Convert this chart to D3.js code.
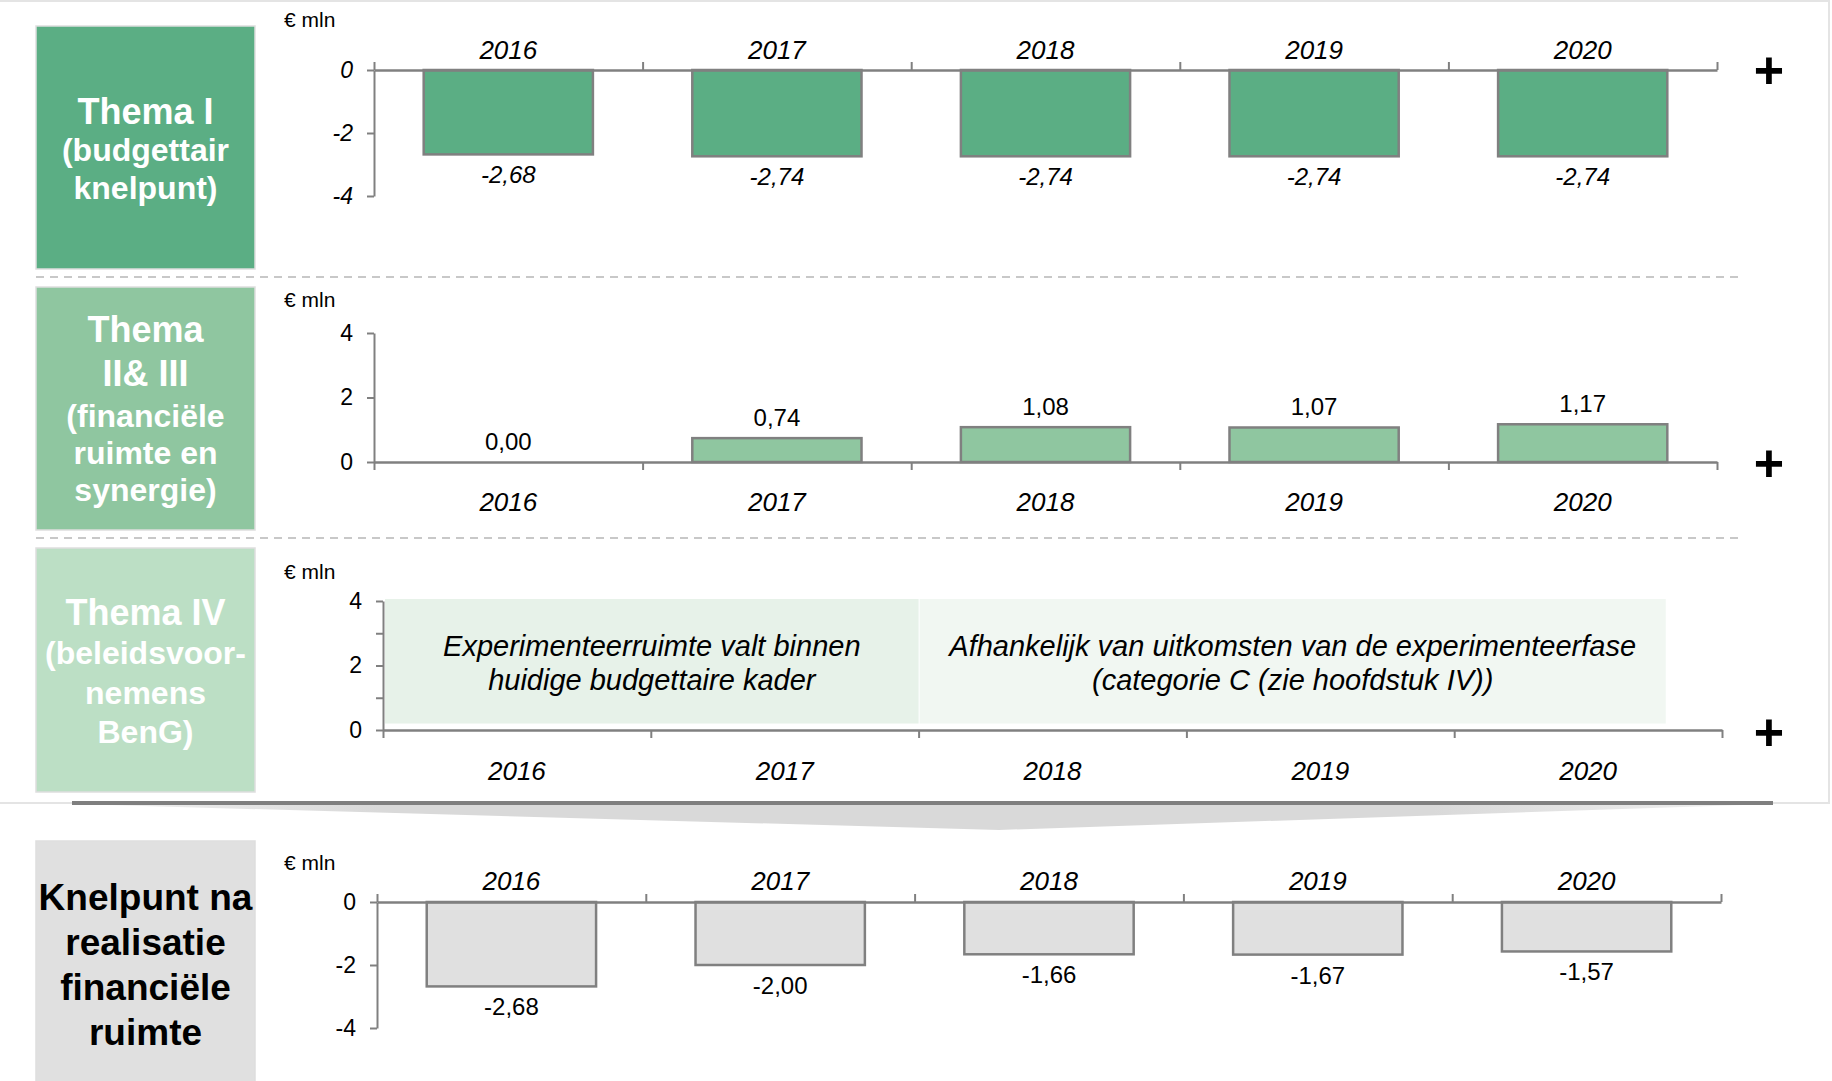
<!DOCTYPE html>
<html>
<head>
<meta charset="utf-8">
<script src="https://cdn.jsdelivr.net/npm/d3@7"></script>
<style>
  html, body { margin: 0; padding: 0; background: #ffffff; }
  svg { display: block; font-family: "Liberation Sans", Arial, sans-serif; }
</style>
</head>
<body>
<svg id="chart" width="1832" height="1081"></svg>
<script>
// ---------------- DATA ----------------
const years = ["2016", "2017", "2018", "2019", "2020"];
const thema1Values = [-2.68, -2.74, -2.74, -2.74, -2.74];
const thema23Values = [0.00, 0.74, 1.08, 1.07, 1.17];
const knelpuntValues = [-2.68, -2.00, -1.66, -1.67, -1.57];

const negTicks = [-4, -2, 0];
const posTicks = [0, 2, 4];
const thema4Ticks = [0, 1, 2, 3, 4];
const thema4LabelTicks = [0, 2, 4];
const unitLabel = "€ mln";

const titleThema1 = ["Thema I", "(budgettair", "knelpunt)"];
const titleThema23 = ["Thema", "II& III", "(financiële", "ruimte en", "synergie)"];
const titleThema4 = ["Thema IV", "(beleidsvoor-", "nemens", "BenG)"];
const titleKnelpunt = ["Knelpunt na", "realisatie", "financiële", "ruimte"];

const noteExperiment = ["Experimenteerruimte valt binnen", "huidige budgettaire kader"];
const noteAfhankelijk = ["Afhankelijk van uitkomsten van de experimenteerfase", "(categorie C (zie hoofdstuk IV))"];
const plusSign = "+";

// ---------------- DRAWING ----------------
const svg = d3.select("#chart");
const nl = d3.formatLocale({ decimal: ",", thousands: ".", grouping: [3], currency: ["€", ""], minus: "-" });
const fmt = nl.format(".2f");
const fmtTick = nl.format("d");
const AXIS = "#808080";

// outer frame around the top three themes
svg.append("rect").attr("x", -2).attr("y", 1).attr("width", 1831).attr("height", 802)
  .attr("fill", "none").attr("stroke", "#e4e4e4").attr("stroke-width", 2);

// dashed separators
[277, 538].forEach(y => {
  svg.append("line").attr("x1", 36).attr("x2", 1740).attr("y1", y).attr("y2", y)
    .attr("stroke", "#c8c8c8").attr("stroke-width", 2).attr("stroke-dasharray", "8,6");
});

// arrow (summing) shape
const grad = svg.append("defs").append("linearGradient").attr("id", "arrowGrad")
  .attr("x1", "0%").attr("x2", "100%").attr("y1", "0%").attr("y2", "0%");
grad.append("stop").attr("offset", "0%").attr("stop-color", "#f2f2f2");
grad.append("stop").attr("offset", "18%").attr("stop-color", "#d9d9d9");
grad.append("stop").attr("offset", "80%").attr("stop-color", "#d9d9d9");
grad.append("stop").attr("offset", "100%").attr("stop-color", "#f2f2f2");
svg.append("path").attr("d", d3.line()([[72, 804], [1773, 804], [999, 830]]) + "Z")
  .attr("fill", "url(#arrowGrad)");
svg.append("line").attr("x1", 72).attr("x2", 1773).attr("y1", 803).attr("y2", 803)
  .attr("stroke", "#7f7f7f").attr("stroke-width", 4);

// title boxes
function titleBox(y0, y1, fill, color, lines, baselines, sizes) {
  svg.append("rect").attr("x", 36).attr("y", y0).attr("width", 219).attr("height", y1 - y0)
    .attr("fill", fill).attr("stroke", "#dedede").attr("stroke-width", 1.5);
  svg.append("g").selectAll("text").data(lines).join("text")
    .attr("x", 145.5).attr("y", (d, i) => baselines[i])
    .attr("text-anchor", "middle").attr("font-weight", "bold")
    .attr("font-size", (d, i) => sizes[i]).attr("fill", color).text(d => d);
}
titleBox(26, 269, "#5bae84", "#ffffff", titleThema1, [124, 161, 199], [36, 32, 32]);
titleBox(287, 530, "#8fc6a0", "#ffffff", titleThema23, [342, 386, 427, 464, 501], [36, 36, 32, 32, 32]);
titleBox(548, 792, "#bcdfc5", "#ffffff", titleThema4, [625, 664, 704, 743], [36, 32, 32, 32]);
titleBox(841, 1083, "#e0e0e0", "#000000", titleKnelpunt, [910, 955, 1000, 1045], [37, 37, 37, 37]);

// generic bar panel
function panel(cfg) {
  const g = svg.append("g");
  const x = d3.scaleBand().domain(years).range([cfg.x0, cfg.x1]).paddingInner(0.37).paddingOuter(0.185);
  const y = d3.scaleLinear().domain(cfg.domain).range(cfg.range);
  const xb = d3.scaleLinear().domain([0, years.length]).range([cfg.x0, cfg.x1]);

  // unit label
  g.append("text").attr("x", 284).attr("y", cfg.unitY).attr("font-size", 21).attr("fill", "#000").text(unitLabel);

  // bars
  if (cfg.values) {
    g.append("g").selectAll("rect").data(cfg.values).join("rect")
      .attr("x", (d, i) => x(years[i]))
      .attr("y", d => Math.min(y(d), y(0)))
      .attr("width", x.bandwidth())
      .attr("height", d => Math.abs(y(d) - y(0)))
      .attr("fill", cfg.fill).attr("stroke", AXIS).attr("stroke-width", 2.5);
    g.append("g").selectAll("text").data(cfg.values).join("text")
      .attr("x", (d, i) => x(years[i]) + x.bandwidth() / 2)
      .attr("y", d => d < 0 ? y(d) + 29 : y(d) - 12)
      .attr("text-anchor", "middle").attr("font-size", 24)
      .attr("font-style", cfg.italicValues ? "italic" : "normal")
      .attr("fill", "#000").text(d => fmt(d));
  }

  // y axis
  const yAxis = d3.axisLeft(y).tickValues(cfg.ticks).tickSize(7).tickSizeOuter(0).tickPadding(14)
    .tickFormat(d => cfg.labelTicks.includes(d) ? fmtTick(d) : "");
  const ya = g.append("g").attr("transform", `translate(${cfg.x0},0)`).call(yAxis);
  ya.select(".domain").attr("stroke", AXIS).attr("stroke-width", 2);
  ya.selectAll(".tick line").attr("stroke", AXIS).attr("stroke-width", 2);
  ya.selectAll(".tick text").attr("font-size", 23).attr("fill", "#000")
    .attr("font-family", "Liberation Sans, Arial, sans-serif")
    .attr("font-style", cfg.italicTicks ? "italic" : "normal");

  // x axis with boundary ticks
  const xAxis = (cfg.ticksUp ? d3.axisTop(xb) : d3.axisBottom(xb))
    .tickValues(d3.range(0, years.length + 1)).tickSize(8).tickSizeOuter(0).tickFormat("");
  const xa = g.append("g").attr("transform", `translate(0,${y(0)})`).call(xAxis);
  xa.select(".domain").attr("stroke", AXIS).attr("stroke-width", 2.5);
  xa.selectAll(".tick line").attr("stroke", AXIS).attr("stroke-width", 2);

  // year labels
  g.append("g").selectAll("text").data(years).join("text")
    .attr("x", d => x(d) + x.bandwidth() / 2).attr("y", cfg.yearY)
    .attr("text-anchor", "middle").attr("font-size", 26).attr("font-style", "italic")
    .attr("fill", "#000").text(d => d);

  // plus sign
  if (cfg.plusY) {
    g.append("text").attr("x", 1769).attr("y", cfg.plusY + 17).attr("text-anchor", "middle")
      .attr("font-size", 52).attr("font-weight", "bold").attr("fill", "#000").text(plusSign);
  }
  return { x, y, g };
}

panel({ x0: 374, x1: 1717, domain: [-4, 0], range: [196, 70], values: thema1Values, fill: "#5bae84",
  ticks: negTicks, labelTicks: negTicks, italicTicks: true, italicValues: true, ticksUp: true,
  yearY: 59, unitY: 27, plusY: 71 });

panel({ x0: 374, x1: 1717, domain: [0, 4], range: [462, 333], values: thema23Values, fill: "#8fc6a0",
  ticks: posTicks, labelTicks: posTicks, italicTicks: false, italicValues: false, ticksUp: false,
  yearY: 511, unitY: 307, plusY: 464 });

const p3 = panel({ x0: 383, x1: 1722, domain: [0, 4], range: [730, 601], values: null, fill: "none",
  ticks: thema4Ticks, labelTicks: thema4LabelTicks, italicTicks: false, italicValues: false, ticksUp: false,
  yearY: 780, unitY: 579, plusY: 733 });

// Thema IV annotation boxes
(function () {
  const x = p3.x, y = p3.y, step = x.step();
  const boxes = [
    { x0: x("2016") - step * 0.185 + 2, x1: x("2018") - step * 0.185, fill: "#e7f2e9", lines: noteExperiment },
    { x0: x("2018") - step * 0.185 + 1, x1: x("2020") + step * 0.605, fill: "#f1f7f2", lines: noteAfhankelijk }
  ];
  const gb = p3.g.insert("g", ":first-child");
  boxes.forEach(b => {
    gb.append("rect").attr("x", b.x0).attr("y", y(4) - 2).attr("width", b.x1 - b.x0)
      .attr("height", y(0.2) - (y(4) - 2)).attr("fill", b.fill);
    gb.append("g").selectAll("text").data(b.lines).join("text")
      .attr("x", (b.x0 + b.x1) / 2).attr("y", (d, i) => 656 + i * 34)
      .attr("text-anchor", "middle").attr("font-size", 29).attr("font-style", "italic")
      .attr("fill", "#000").text(d => d);
  });
})();

panel({ x0: 377, x1: 1721, domain: [-4, 0], range: [1028, 902], values: knelpuntValues, fill: "#e0e0e0",
  ticks: negTicks, labelTicks: negTicks, italicTicks: false, italicValues: false, ticksUp: true,
  yearY: 890, unitY: 870, plusY: null });
</script>
</body>
</html>
